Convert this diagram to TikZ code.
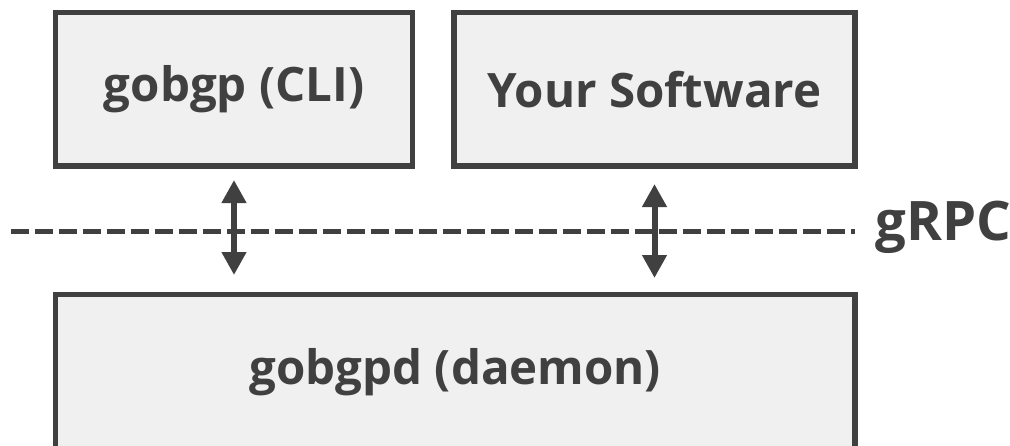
\documentclass[tikz,border=0pt]{standalone}
\usepackage{fontspec}
\setmainfont{Open Sans}
\usetikzlibrary{arrows.meta,positioning}
\definecolor{ink}{HTML}{404040}
\definecolor{panel}{HTML}{F0F0F0}
\tikzset{
  box/.style = {rectangle, draw=ink, line width=0.11cm, fill=panel, outer sep=0pt,
    minimum height=3.07cm, text=ink, font=\fontsize{27}{32}\selectfont\bfseries},
  link/.style = {line width=0.12cm, draw=ink,
    {Triangle[width=0.47cm,length=0.46cm]}-{Triangle[width=0.47cm,length=0.46cm]}},
  bus/.style = {line width=0.1cm, draw=ink, dash pattern=on 0.36cm off 0.12cm},
  tag/.style = {inner sep=0pt, text=ink, font=\fontsize{31}{36}\selectfont\bfseries}
}
\begin{document}
\begin{tikzpicture}[node distance=0.83cm]
\useasboundingbox (0,0) rectangle (20.2,-8.92);

\node[box, minimum width=7.14cm] (cli) at (4.68,-1.785) {gobgp (CLI)};
\node[box, minimum width=8.02cm, right=of cli] (soft) {Your Software};
\node[box, minimum width=15.99cm, minimum height=3.1cm,
  below=2.57cm of cli.south west, anchor=north west] (daemon) {gobgpd (daemon)};

% gRPC boundary
\coordinate (busstart) at (0.22,-4.62);
\node[tag, anchor=base west] (grpc) at (17.5,-4.8) {gRPC};
\draw[bus] (busstart) -- ([xshift=-0.4cm]busstart -| grpc.west);

\draw[link, shorten <=0.28cm, shorten >=0.39cm] (cli.south) -- (cli.south |- daemon.north);
\draw[link, shorten <=0.36cm, shorten >=0.33cm] (soft.south) -- (soft.south |- daemon.north);

\end{tikzpicture}
\end{document}
